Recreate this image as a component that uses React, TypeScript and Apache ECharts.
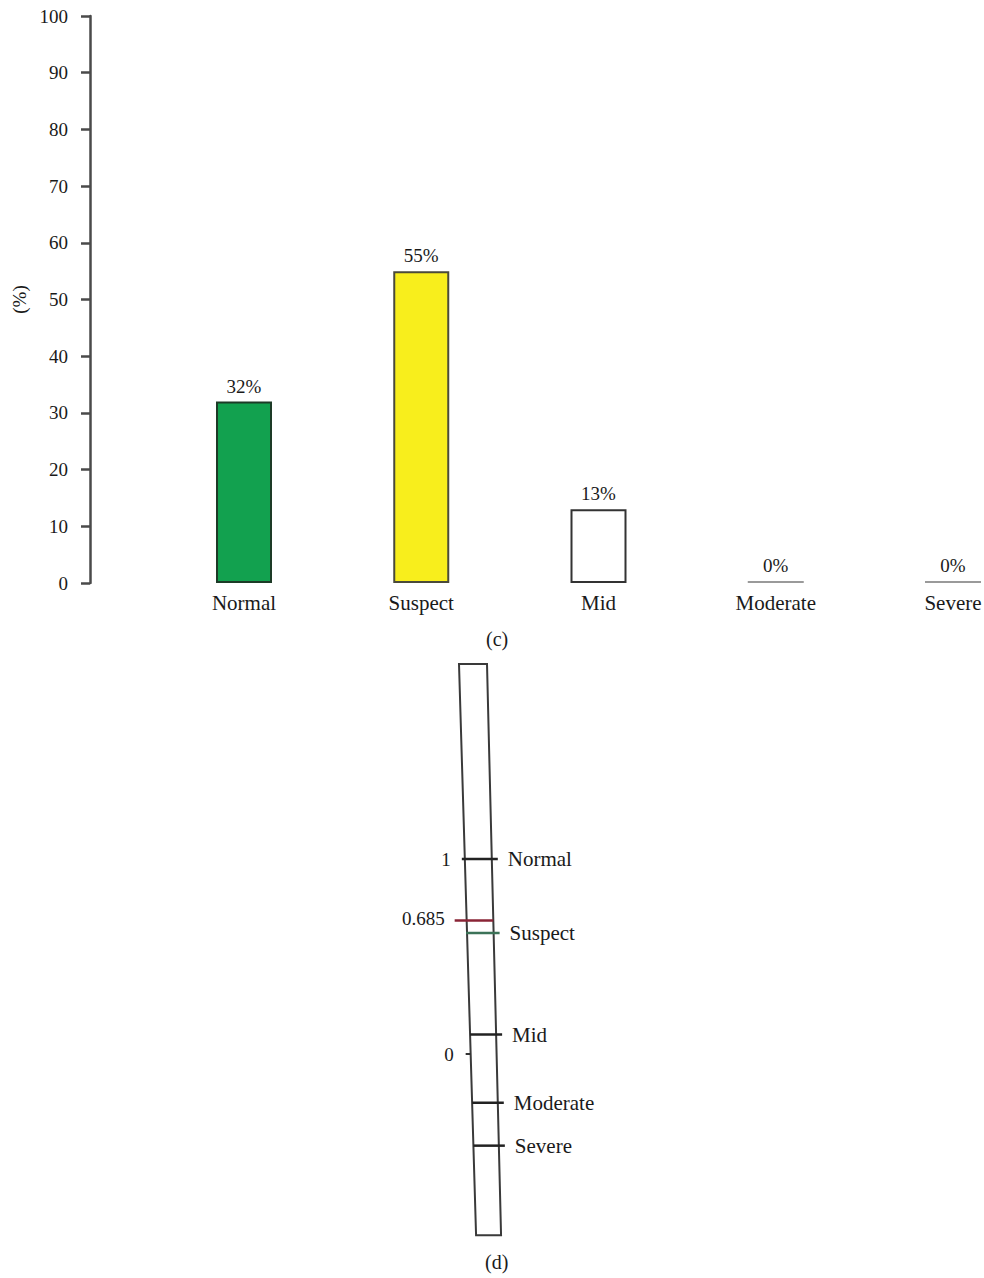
import React, { useEffect, useRef } from "react";
import * as echarts from "echarts";

// ---- Data (c) ----
const categories = ["Normal", "Suspect", "Mid", "Moderate", "Severe"];
const percentValues = [32, 55, 13, 0, 0];
const barFills = ["#12a14f", "#f8ee1c", "#ffffff", "#9a9a9a", "#9a9a9a"];
const barBorders = ["#1d3b27", "#4a4a3a", "#333333", "#9a9a9a", "#9a9a9a"];
const yTicks = { min: 0, max: 100, interval: 10 };

// ---- Data (d) ----
const scaleNames = ["Normal", "Suspect", "Mid", "Moderate", "Severe"];
const scaleValues = [1, 0.62, 0.1, -0.25, -0.47];
const scaleLineColors = ["#222222", "#3c7358", "#222222", "#222222", "#222222"];
const scaleTickValues = [1, 0];
const scaleTickLabels = ["1", "0"];
const markerValue = 0.685;
const markerLabel = "0.685";
const scaleExtent = [2.0, -0.93];

const SERIF = "'Liberation Serif', 'DejaVu Serif', serif";

export default function App() {
  const ref = useRef<HTMLDivElement>(null);

  useEffect(() => {
    if (!ref.current) return;
    const chart = echarts.init(ref.current, null, { renderer: "svg" });

    type Item = { value: number[]; kind: string; idx: number };
    const items: Item[] = [
      { value: [0, scaleExtent[0], scaleExtent[1]], kind: "body", idx: 0 },
      ...scaleValues.map((v, i) => ({ value: [0, v], kind: "level", idx: i })),
      { value: [0, markerValue], kind: "marker", idx: 0 },
      ...scaleTickValues.map((v, i) => ({ value: [0, v], kind: "tick", idx: i })),
    ];

    const renderItem = (params: any, api: any) => {
      const it = items[params.dataIndex];
      const cs = params.coordSys;
      const cx = cs.x + cs.width / 2;
      const yTop = api.coord([0, scaleExtent[0]])[1];
      const leftX = (y: number) => cx - 33 + (y - yTop) * 0.0299;
      const rightX = (y: number) => cx - 5 + (y - yTop) * 0.0246;
      const font = { fontSize: 19, fontFamily: SERIF, fill: "#1a1a1a" };
      const wordFont = { fontSize: 21, fontFamily: SERIF, fill: "#1a1a1a" };
      if (it.kind === "body") {
        const yB = api.coord([0, scaleExtent[1]])[1];
        return {
          type: "polygon",
          shape: {
            points: [
              [leftX(yTop), yTop],
              [rightX(yTop), yTop],
              [rightX(yB), yB],
              [leftX(yB), yB],
            ],
          },
          style: { fill: "#fff", stroke: "#3a3a3a", lineWidth: 2 },
        };
      }
      const y = api.coord([0, it.value[1]])[1];
      if (it.kind === "level") {
        const x1 = leftX(y) - (it.idx === 0 ? 3 : it.idx === 1 ? 1 : 0);
        const x2 = rightX(y) + 6;
        return {
          type: "group",
          children: [
            {
              type: "line",
              shape: { x1, y1: y, x2, y2: y },
              style: { stroke: scaleLineColors[it.idx], lineWidth: 2.5 },
            },
            {
              type: "text",
              style: {
                text: scaleNames[it.idx],
                x: x2 + 10,
                y,
                align: "left",
                verticalAlign: "middle",
                ...wordFont,
              },
            },
          ],
        };
      }
      if (it.kind === "marker") {
        const x1 = leftX(y) - 12;
        const x2 = rightX(y);
        return {
          type: "group",
          children: [
            {
              type: "line",
              shape: { x1, y1: y, x2, y2: y },
              style: { stroke: "#8a2436", lineWidth: 2.5 },
            },
            {
              type: "text",
              style: {
                text: markerLabel,
                x: x1 - 10,
                y: y - 2,
                align: "right",
                verticalAlign: "middle",
                ...font,
              },
            },
          ],
        };
      }
      // tick
      const lx = leftX(y);
      const children: any[] = [
        {
          type: "text",
          style: {
            text: scaleTickLabels[it.idx],
            x: lx - (it.idx === 0 ? 14 : 17),
            y,
            align: "right",
            verticalAlign: "middle",
            ...font,
          },
        },
      ];
      if (it.idx === 1) {
        children.push({
          type: "line",
          shape: { x1: lx - 5, y1: y, x2: lx, y2: y },
          style: { stroke: "#333", lineWidth: 2 },
        });
      }
      return { type: "group", children };
    };

    chart.setOption({
      animation: false,
      backgroundColor: "#ffffff",
      grid: [
        {
          left: 244,
          right: 31,
          top: 16,
          bottom: 1278 - 583,
          containLabel: false,
          outerBoundsMode: "none",
        },
        {
          left: 0,
          right: 0,
          top: 664,
          bottom: 29,
          containLabel: false,
          outerBoundsMode: "none",
        },
      ],
      xAxis: [
        {
          type: "category",
          gridIndex: 0,
          data: categories,
          boundaryGap: false,
          axisLine: { show: false },
          axisTick: { show: false },
          axisLabel: { fontFamily: SERIF, fontSize: 21, color: "#1a1a1a", margin: 9 },
          splitLine: { show: false },
        },
        { type: "value", gridIndex: 1, min: 0, max: 1, show: false },
      ],
      yAxis: [
        {
          type: "value",
          gridIndex: 0,
          min: yTicks.min,
          max: yTicks.max,
          interval: yTicks.interval,
          offset: 154,
          name: "(%)",
          nameLocation: "middle",
          nameGap: 60,
          nameTextStyle: { fontFamily: SERIF, fontSize: 19, color: "#1a1a1a" },
          axisLine: { show: true, lineStyle: { color: "#4a4a4a", width: 2.5 } },
          axisTick: { show: true, length: 9, lineStyle: { color: "#4a4a4a", width: 2.5 } },
          axisLabel: { fontFamily: SERIF, fontSize: 19, color: "#1a1a1a", margin: 22 },
          splitLine: { show: false },
        },
        { type: "value", gridIndex: 1, min: -1, max: 2, show: false },
      ],
      series: [
        {
          type: "bar",
          xAxisIndex: 0,
          yAxisIndex: 0,
          barWidth: 56,
          barMinHeight: 2,
          data: percentValues.map((v, i) => ({
            value: v,
            itemStyle: {
              color: barFills[i],
              borderColor: barBorders[i],
              borderWidth: v > 0 ? 2 : 0,
            },
          })),
          label: {
            show: true,
            position: "top",
            distance: 6,
            formatter: (p: any) => `${p.value}%`,
            fontFamily: SERIF,
            fontSize: 19,
            color: "#1a1a1a",
          },
        },
        {
          type: "custom",
          xAxisIndex: 1,
          yAxisIndex: 1,
          renderItem,
          data: items.map((it) => it.value),
          clip: false,
        },
      ],
      graphic: [
        {
          type: "text",
          left: 486,
          top: 629,
          style: { text: "(c)", fontFamily: SERIF, fontSize: 20, fill: "#1a1a1a" },
        },
        {
          type: "text",
          left: 485,
          top: 1252,
          style: { text: "(d)", fontFamily: SERIF, fontSize: 20, fill: "#1a1a1a" },
        },
      ],
    });

    return () => chart.dispose();
  }, []);

  return (
    <div
      ref={ref}
      style={{ position: "absolute", left: 0, top: 0, width: 984, height: 1278 }}
    />
  );
}
